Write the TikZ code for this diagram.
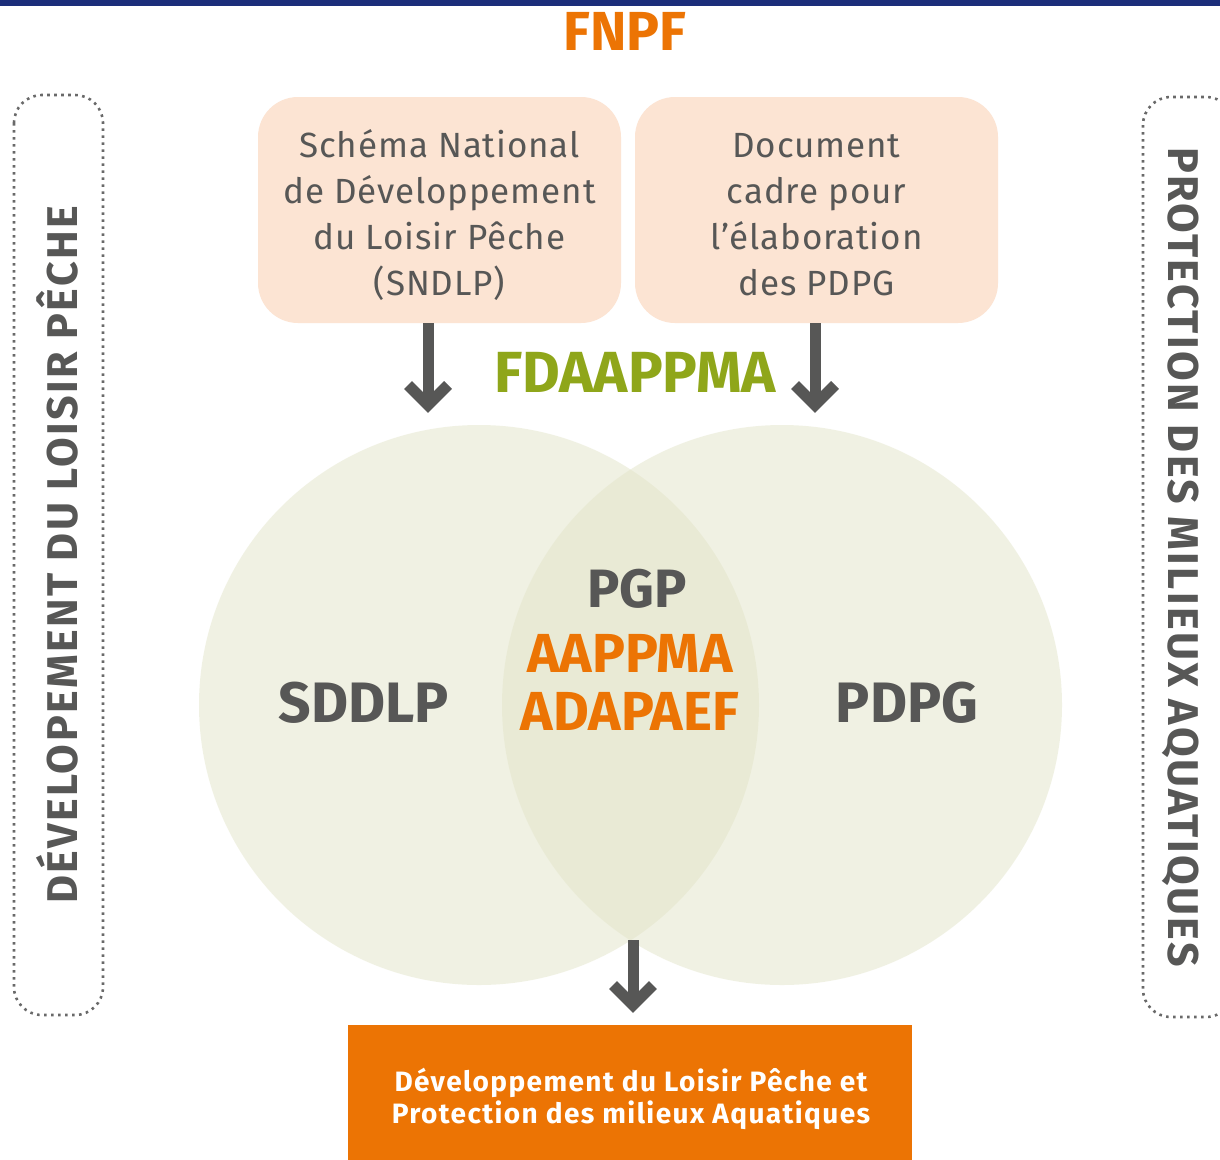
\documentclass[tikz,border=0pt]{standalone}
\usepackage{fontspec}
\setmainfont{Fira Sans}
\usetikzlibrary{calc}
\definecolor{topblue}{RGB}{28,46,122}
\definecolor{fnpforange}{RGB}{236,116,4}
\definecolor{peach}{RGB}{252,228,211}
\definecolor{txtgray}{RGB}{87,87,86}
\definecolor{fgreen}{RGB}{143,166,26}
\definecolor{circfill}{RGB}{227,229,201}
\definecolor{dotgray}{RGB}{105,105,105}
\begin{document}
\begin{tikzpicture}[x=1pt,y=-1pt,
  topbox/.style={fill=peach, rounded corners=40pt, minimum width=363pt, minimum height=226pt,
     inner sep=0pt, text=txtgray, align=center, font=\fontsize{35}{46}\selectfont\addfontfeature{LetterSpace=2.5}},
  dotbox/.style={draw=dotgray, line width=2.6pt, dash pattern=on 2.6pt off 4.4pt, rounded corners=28pt},
  arr/.style={draw=txtgray, line width=11pt},
  chev/.style={draw=txtgray, line width=11pt, miter limit=4, line join=miter},
  venn/.style={circle, minimum size=560pt, inner sep=0pt, fill=circfill, fill opacity=0.5},
  big/.style={anchor=base, inner sep=0pt, font=\bfseries\fontsize{#1}{#1}\selectfont},
  sidetxt/.style={anchor=base, inner sep=0pt, text=txtgray, font=\bfseries\fontsize{43}{43}\selectfont\addfontfeature{LetterSpace=5.5}}
]
\useasboundingbox (0,0) rectangle (1220,1159);
\fill[white] (0,0) rectangle (1220,1159);
\fill[topblue] (0,0) rectangle (1220,5.5);

% side dotted boxes
\draw[dotbox] (14,95) rectangle (103,1015);
\draw[dotbox] (1143,97) rectangle (1234,1017);
\node[sidetxt, rotate=90] (lside) at (77,555) {DÉVELOPEMENT DU LOISIR PÊCHE};
\node[sidetxt, rotate=-90] (rside) at (1168,557) {PROTECTION DES MILIEUX AQUATIQUES};

% title
\node[big=55, text=fnpforange] (fnpf) at (625,50) {FNPF};

% top boxes
\node[topbox] (sn) at (439.5,210) {};
\node[topbox, fill=none] (snt) at (439.5,215) {Schéma National\\de Développement\\du Loisir Pêche\\(SNDLP)};
\node[topbox] (dc) at (816.5,210) {};
\node[topbox, fill=none] (dct) at (816.5,215) {Document\\cadre pour\\l’élaboration\\des PDPG};

% venn circles
\node[venn] (cl) at (479,705) {};
\node[venn] (cr) at (782,705) {};

% arrows from boxes
\coordinate (t1) at (428,405);
\coordinate (t2) at (815,405);
\draw[arr] (sn.south -| t1) -- (t1);
\draw[chev] (t1) ++(-20,-20) -- (t1) -- ++(20,-20);
\draw[arr] (dc.south -| t2) -- (t2);
\draw[chev] (t2) ++(-20,-20) -- (t2) -- ++(20,-20);

\node[big=58, text=fgreen] (fda) at (635,392) {FDAAPPMA};

% circle labels
\node[big=57, text=txtgray] (sddlp) at (364,722) {SDDLP};
\node[big=57, text=txtgray] (pdpg) at (907,722) {PDPG};
\node[big=54, text=txtgray] (pgp) at (637,607) {PGP};
\node[big=55, text=fnpforange] (aappma) at (630,672) {AAPPMA};
\node[big=55, text=fnpforange] (adapaef) at (630,730) {ADAPAEF};

% bottom box
\node[fill=fnpforange, minimum width=564pt, minimum height=140pt, inner sep=0pt, anchor=north west] (res) at (348,1025) {};
\node[inner sep=0pt, text=white, align=center,
      font=\bfseries\fontsize{28}{32}\selectfont\addfontfeature{LetterSpace=5}] (restxt) at (631,1099)
      {Développement du Loisir Pêche et\\Protection des milieux Aquatiques};

% bottom arrow
\coordinate (lens) at (633,940);
\coordinate (t3) at (633,1005);
\draw[arr] (lens) -- (t3);
\draw[chev] (t3) ++(-20,-20) -- (t3) -- ++(20,-20);
\end{tikzpicture}
\end{document}
